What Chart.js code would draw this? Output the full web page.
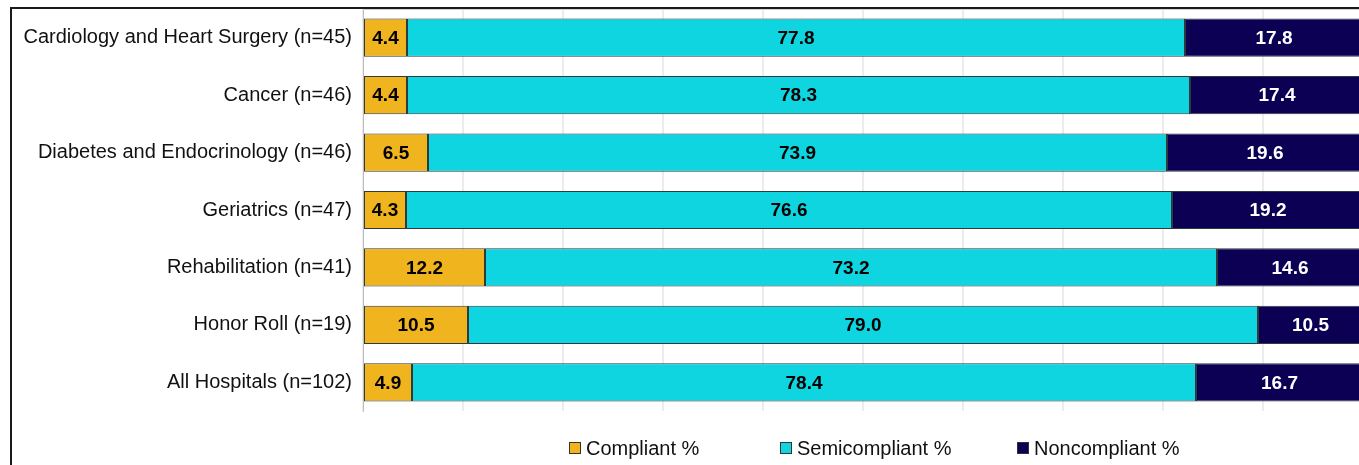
<!DOCTYPE html>
<html>
<head>
<meta charset="utf-8">
<script src="https://cdn.jsdelivr.net/npm/chart.js@4/dist/chart.umd.min.js"></script>
<style>
  html, body { margin: 0; padding: 0; background: #fff; overflow: hidden; width: 1359px; height: 465px; }
  #frame { position: absolute; left: 10px; top: 7px; width: 2000px; height: 1000px;
           border-left: 2px solid #1a1a1a; border-top: 2px solid #1a1a1a; }
  #chart { position: absolute; left: 0; top: 0; }
</style>
</head>
<body>
<div id="frame"></div>
<canvas id="chart" width="1400" height="465"></canvas>
<script>
const categories = [
  "Cardiology and Heart Surgery (n=45)",
  "Cancer (n=46)",
  "Diabetes and Endocrinology (n=46)",
  "Geriatrics (n=47)",
  "Rehabilitation (n=41)",
  "Honor Roll (n=19)",
  "All Hospitals (n=102)"
];
const compliant = [4.4, 4.4, 6.5, 4.3, 12.2, 10.5, 4.9];
const semicompliant = [77.8, 78.3, 73.9, 76.6, 73.2, 79.0, 78.4];
const noncompliant = [17.8, 17.4, 19.6, 19.2, 14.6, 10.5, 16.7];
const seriesNames = ["Compliant %", "Semicompliant %", "Noncompliant %"];

const FONT = "'Liberation Sans', Arial, sans-serif";
const colors = ["#F0B41E", "#0FD5E1", "#0C0055"];
const labelColors = ["#000", "#000", "#fff"];
const legendStarts = [569, 780, 1017]; // left edge of each legend box

// value labels centred in each bar segment
const barLabels = {
  id: "barLabels",
  afterDatasetsDraw(chart) {
    const ctx = chart.ctx;
    ctx.save();
    ctx.font = "bold 19px " + FONT;
    ctx.textAlign = "center";
    ctx.textBaseline = "middle";
    chart.data.datasets.forEach((ds, i) => {
      const meta = chart.getDatasetMeta(i);
      ctx.fillStyle = labelColors[i];
      meta.data.forEach((bar, j) => {
        const x = (bar.x + bar.base) / 2;
        ctx.fillText(ds.data[j].toFixed(1), x, bar.y + 1);
      });
    });
    ctx.restore();
  }
};

// thin line along the top of the plot + legend under it
const extras = {
  id: "extras",
  beforeDatasetsDraw(chart) {
    const { ctx, chartArea } = chart;
    ctx.save();
    ctx.strokeStyle = "#d4d4d4";
    ctx.lineWidth = 1;
    ctx.beginPath();
    ctx.moveTo(chartArea.left, Math.round(chartArea.top) + 0.5);
    ctx.lineTo(chartArea.right, Math.round(chartArea.top) + 0.5);
    ctx.stroke();
    ctx.restore();
  },
  afterDraw(chart) {
    const ctx = chart.ctx;
    const y = 448;
    ctx.save();
    ctx.font = "20px " + FONT;
    ctx.textBaseline = "middle";
    chart.data.datasets.forEach((ds, i) => {
      const x = legendStarts[i];
      ctx.fillStyle = ds.backgroundColor;
      ctx.fillRect(x, y - 6, 11, 11);
      ctx.strokeStyle = "#333";
      ctx.lineWidth = 1;
      ctx.strokeRect(x + 0.5, y - 5.5, 11, 11);
      ctx.fillStyle = "#111";
      ctx.fillText(ds.label, x + 17, y + 1);
    });
    ctx.restore();
  }
};

const ctx = document.getElementById("chart").getContext("2d");
const chart = new Chart(ctx, {
  type: "bar",
  data: {
    labels: categories,
    datasets: [compliant, semicompliant, noncompliant].map((d, i) => ({
      label: seriesNames[i],
      data: d,
      backgroundColor: colors[i],
      borderColor: "#2f3a3c",
      borderWidth: 1,
      borderSkipped: false,
      barPercentage: 0.665,
      categoryPercentage: 1
    }))
  },
  options: {
    indexAxis: "y",
    responsive: false,
    animation: false,
    devicePixelRatio: 1,
    layout: { padding: { left: 0, right: 37, top: 9, bottom: 54 } },
    plugins: {
      legend: { display: false },
      tooltip: { enabled: false }
    },
    scales: {
      x: {
        stacked: true,
        min: 0,
        max: 100,
        position: "bottom",
        ticks: { display: false, stepSize: 10 },
        grid: { color: "#ececec", lineWidth: 2, drawTicks: false },
        border: { display: false },
        afterFit: (s) => { s.height = 0; }
      },
      y: {
        stacked: true,
        grid: { display: false, drawTicks: false },
        border: { display: true, color: "#bdbdbd", width: 1 },
        ticks: { color: "#111", padding: 11, font: { family: FONT, size: 20 } },
        afterFit: (s) => { s.width = 363; s.paddingTop = 0; s.paddingBottom = 0; }
      }
    }
  },
  plugins: [barLabels, extras]
});
</script>
</body>
</html>
